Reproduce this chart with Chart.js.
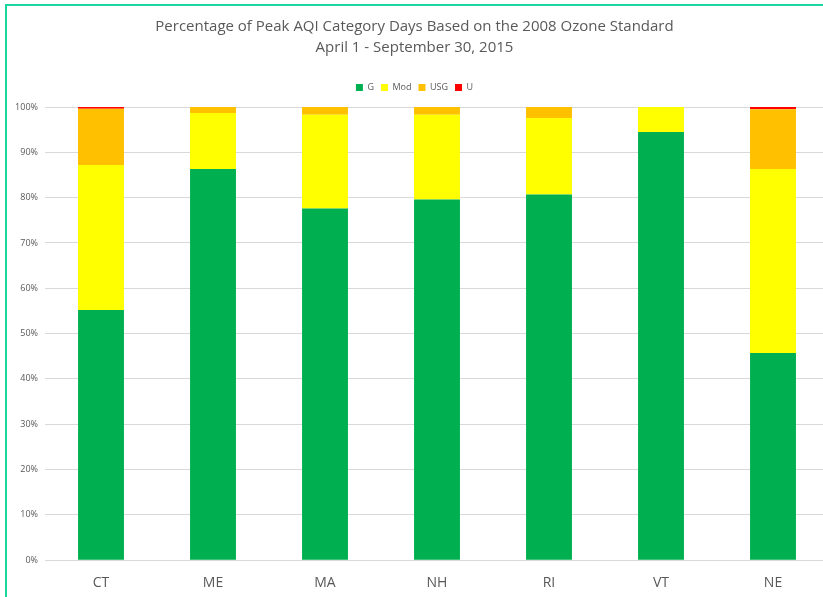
<!DOCTYPE html>
<html>
<head>
<meta charset="utf-8">
<script src="https://cdn.jsdelivr.net/npm/chart.js@4.4.0/dist/chart.umd.min.js"></script>
<style>
  html, body { margin: 0; padding: 0; background: #fff; overflow: hidden; }
  #wrap { position: relative; width: 829px; height: 597px; }
  #frame { position: absolute; left: 5px; top: 4px; width: 900px; height: 700px;
           border-left: 2px solid #1cd6a0; border-top: 2px solid #1cd6a0; pointer-events: none; }
</style>
</head>
<body>
<div id="wrap">
  <canvas id="myChart" width="829" height="597"></canvas>
  <div id="frame"></div>
</div>
<script>
// states along the x axis
const states = ['CT', 'ME', 'MA', 'NH', 'RI', 'VT', 'NE'];

// percent of days in each AQI category
const good = [55.2, 86.3, 77.6, 79.6, 80.7, 94.5, 45.7];
const moderate = [32.0, 12.4, 20.7, 18.7, 16.9, 5.5, 40.6];
const usg = [12.4, 1.3, 1.7, 1.7, 2.4, 0, 13.2];
const unhealthy = [0.4, 0, 0, 0, 0, 0, 0.5];

const titleLines = ['Percentage of Peak AQI Category Days Based on the 2008 Ozone Standard',
                    'April 1 - September 30, 2015'];

window.addEventListener('load', setup);

// extra room under the legend, the legend itself stays put
const legendGap = {
  id: 'legendGap',
  afterInit(chart){
    const lg = chart.legend;
    if (!lg || lg._gapped) return;
    const fit = lg.fit;
    lg.fit = function(){
      fit.call(this);
      this.height += 5;
    };
    lg._gapped = true;
  }
};

function setup(){
  const ctx = document.getElementById('myChart').getContext('2d');
  const grey = '#595959';
  new Chart(ctx, {
    type: 'bar',
    data: {
      labels: states,
      datasets: [
        { label: 'G', data: good, backgroundColor: '#00b050' },
        { label: 'Mod', data: moderate, backgroundColor: '#ffff00' },
        { label: 'USG', data: usg, backgroundColor: '#ffc000' },
        { label: 'U', data: unhealthy, backgroundColor: '#ff0000' }
      ]
    },
    plugins: [legendGap],
    options: {
      responsive: false,
      animation: false,
      layout: { padding: { left: 0, right: 0, top: 0, bottom: 0 } },
      datasets: { bar: { categoryPercentage: 1, barPercentage: 0.41 } },
      plugins: {
        title: {
          display: true,
          text: titleLines,
          color: grey,
          font: { family: 'Open Sans', size: 15, weight: 'normal', lineHeight: 1.4 },
          padding: { top: 16, bottom: 18 }
        },
        legend: {
          display: true,
          labels: {
            color: grey,
            font: { family: 'Open Sans', size: 9 },
            boxWidth: 7,
            boxHeight: 7,
            padding: 7
          }
        },
        tooltip: { enabled: false }
      },
      scales: {
        x: {
          stacked: true,
          grid: { display: false },
          border: { display: false },
          ticks: { color: grey, font: { family: 'Open Sans', size: 14 }, padding: 6 }
        },
        y: {
          stacked: true,
          min: 0,
          max: 100,
          afterFit: function(scale){ scale.width = 45; },
          grid: { color: '#d9d9d9', drawTicks: false },
          border: { display: false },
          ticks: {
            stepSize: 10,
            color: grey,
            font: { family: 'Open Sans', size: 9 },
            padding: 7,
            callback: function(v){ return v + '%'; }
          }
        }
      }
    }
  });
}
</script>
</body>
</html>
